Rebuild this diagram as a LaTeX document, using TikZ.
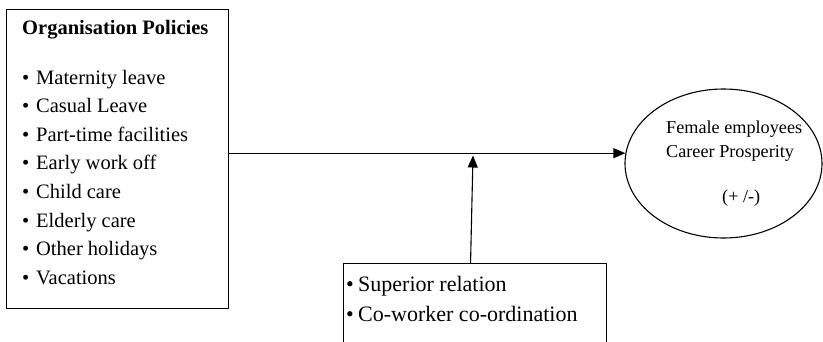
\documentclass[tikz,border=0pt]{standalone}
\usepackage{fontspec}
\setmainfont{Liberation Serif}
\newfontfamily\timesfont{Liberation Serif}
\usetikzlibrary{arrows.meta,shapes.geometric}
\tikzset{
  frame/.style={draw, line width=1.1pt, inner sep=0pt},
  entry/.style={anchor=base west, inner sep=0pt, font=\timesfont\fontsize{#1}{#1}\selectfont},
  entry/.default=20.5,
  link/.style={line width=1.1pt, -{Triangle[length=12pt,width=10pt]}}
}

\begin{document}
\begin{tikzpicture}[x=1pt,y=-1pt]
\useasboundingbox (0,0) rectangle (823,341);
\clip (0,0) rectangle (823,341);

% policy list
\node[frame, minimum width=222pt, minimum height=299pt, anchor=north west] (policies) at (6,9) {};
\node[entry, font=\timesfont\bfseries\fontsize{20.5}{20.5}\selectfont] (title) at (22,34) {Organisation Policies};
\foreach \txt [count=\i] in {Maternity leave, Casual Leave, Part-time facilities, Early work off,
    Child care, Elderly care, Other holidays, Vacations}
  \node[entry] (item-\i) at (22,{84+28.6*(\i-1)}) {\makebox[14pt][l]{\textbullet}\txt};

% outcome
\node[frame, ellipse, minimum width=197pt, minimum height=149pt] (prosperity) at (723.5,163.5) {};
\node[entry=18.2] (female) at (666,133) {Female employees};
\node[entry=18.2] (career) at (666,157) {Career Prosperity};
\node[entry=18.2] (sign) at (722,202) {(+ /-)};

% moderating factors
\node[frame, minimum width=263pt, minimum height=100pt, anchor=north west] (relations) at (343,263) {};
\node[entry=22] (superior) at (346,291) {\makebox[12pt][l]{\textbullet}Superior relation};
\node[entry=22] (coworker) at (346,321) {\makebox[12pt][l]{\textbullet}Co-worker co-ordination};

\coordinate (join) at (473,155.5);
\draw[link] (policies.east |- prosperity.174.4) -- (prosperity.174.4);
\draw[link] ([xshift=-4.5pt]relations.north) -- (join);
\end{tikzpicture}
\end{document}
